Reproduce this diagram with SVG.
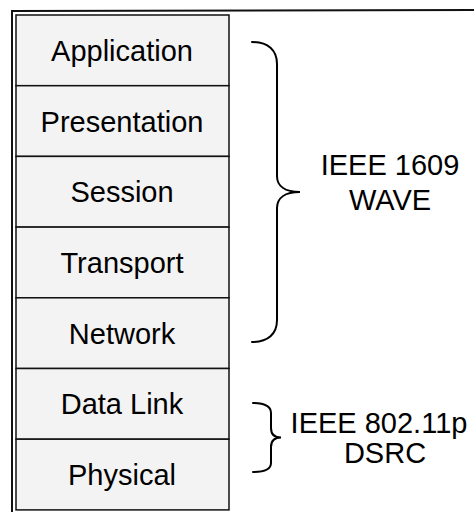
<svg xmlns="http://www.w3.org/2000/svg" width="474" height="512" viewBox="0 0 474 512">
  <style>
    .frame { fill: none; stroke: #111; stroke-width: 2; }
    .layer rect { fill: #f3f3f3; stroke: #111; stroke-width: 1.5; }
    .label { font-family: "Liberation Sans", Arial, sans-serif; font-size: 29px; fill: #000; text-anchor: middle; }
    .brace { fill: none; stroke: #000; stroke-width: 2; stroke-linecap: round; }
  </style>

  <!-- outer frame (runs off the right and bottom edges) -->
  <path class="frame" d="M12,520 L12,11 L480,10"/>

  <!-- protocol stack layers -->
  <g id="application" class="layer">
    <rect x="16" y="15" width="213" height="70.7"/>
    <text class="label" x="122" y="61">Application</text>
  </g>
  <g id="presentation" class="layer">
    <rect x="16" y="85.7" width="213" height="70.7"/>
    <text class="label" x="122" y="131.5">Presentation</text>
  </g>
  <g id="session" class="layer">
    <rect x="16" y="156.4" width="213" height="70.7"/>
    <text class="label" x="122" y="202.2">Session</text>
  </g>
  <g id="transport" class="layer">
    <rect x="16" y="227.1" width="213" height="70.7"/>
    <text class="label" x="122" y="273">Transport</text>
  </g>
  <g id="network" class="layer">
    <rect x="16" y="297.8" width="213" height="70.7"/>
    <text class="label" x="122" y="343.7">Network</text>
  </g>
  <g id="data-link" class="layer">
    <rect x="16" y="368.5" width="213" height="70.7"/>
    <text class="label" x="122" y="414.4">Data Link</text>
  </g>
  <g id="physical" class="layer">
    <rect x="16" y="439.2" width="213" height="70.7"/>
    <text class="label" x="122" y="485">Physical</text>
  </g>

  <!-- braces grouping the layers -->
  <g id="connectors">
    <path class="brace" d="M252,42 C268,42 277,50 277,64 L277,176 C277,186 285,192 300,192 C285,192 277,198 277,208 L277,320 C277,334 268,342 252,342"/>
    <path class="brace" d="M253,403 C265,403 271,406 271,413 L271,428 C271,434 274,437.5 281,437.5 C274,437.5 271,441 271,447 L271,463 C271,469 265,472 253,472"/>
  </g>

  <g id="wave-label">
    <text class="label" x="390" y="175">IEEE 1609</text>
    <text class="label" x="390" y="210">WAVE</text>
  </g>
  <g id="dsrc-label">
    <text class="label" x="379" y="433">IEEE 802.11p</text>
    <text class="label" x="385" y="463">DSRC</text>
  </g>
</svg>
